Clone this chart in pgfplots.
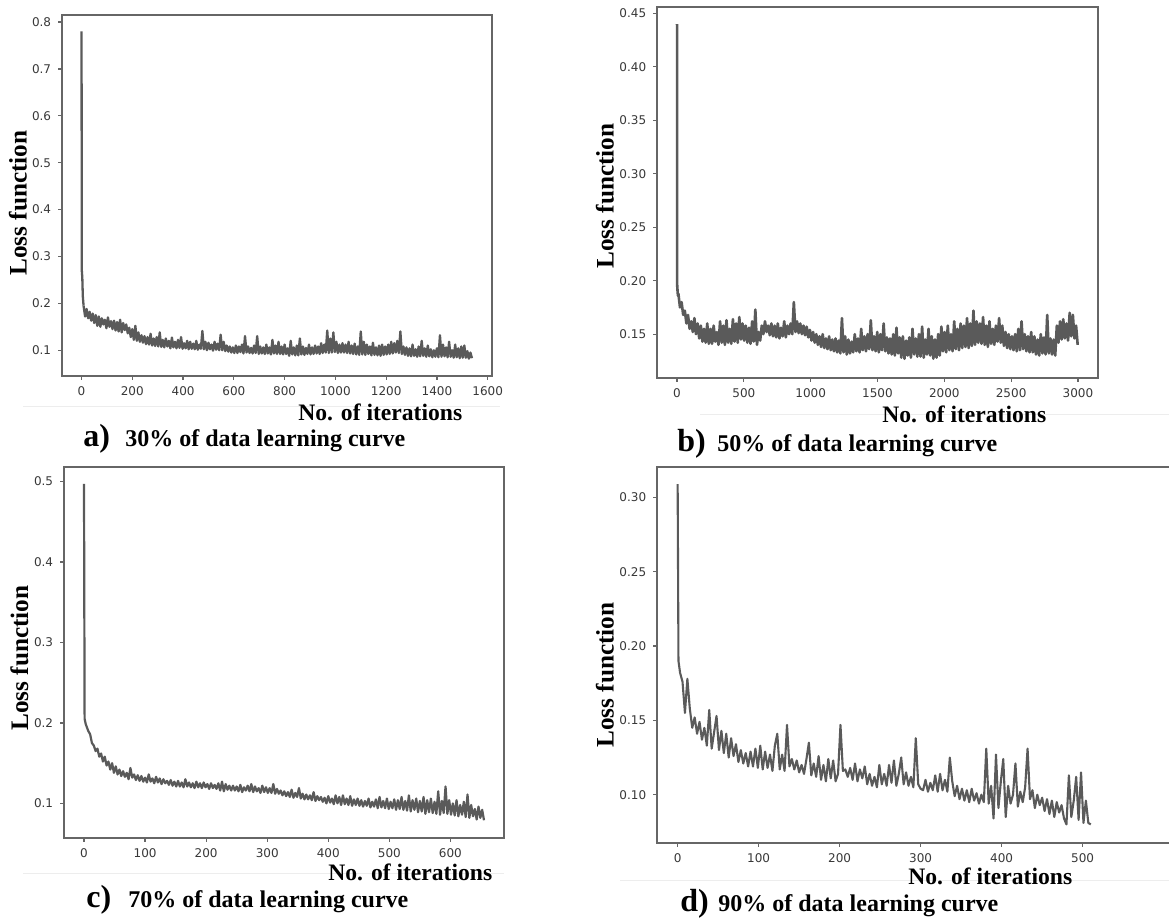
\documentclass[border=0pt]{standalone}
\usepackage{pgfplots}
\usepackage{pgfplotstable}
\pgfplotsset{compat=1.18}
\usepackage{fontspec}
\setmainfont{Liberation Serif}
\newfontfamily\tickfont{DejaVu Sans}
\definecolor{curve}{HTML}{5A5A5A}
\definecolor{spine}{HTML}{666666}
\definecolor{ticktext}{HTML}{383838}

\pgfplotsset{
  lossax/.style={
    scale only axis,
    axis line style={spine, line width=0.8pt},
    tick align=outside,
    major tick length=1.9pt,
    every tick/.style={spine, line width=0.6pt},
    tick pos=left,
    /pgf/number format/assume math mode=true,
    /pgf/number format/1000 sep={},
    scaled ticks=false,
    tick label style={font=\tickfont\fontsize{6}{7}\selectfont, text=ticktext},
  },
  curvestyle/.style={curve, line width=1.15pt, line join=round},
}

% ---------- panel a: 30% (x = 8 + 6*index) ----------
\pgfplotstableread[header=false]{
0.195
0.172
0.188
0.168
0.182
0.163
0.178
0.158
0.175
0.152
0.172
0.150
0.168
0.155
0.165
0.147
0.170
0.150
0.162
0.145
0.163
0.142
0.160
0.140
0.165
0.138
0.158
0.143
0.155
0.136
0.148
0.128
0.145
0.122
0.152
0.120
0.138
0.118
0.132
0.116
0.130
0.113
0.128
0.112
0.135
0.110
0.125
0.109
0.128
0.108
0.138
0.107
0.122
0.106
0.125
0.108
0.120
0.104
0.127
0.106
0.118
0.104
0.122
0.105
0.128
0.103
0.115
0.104
0.120
0.102
0.118
0.103
0.114
0.102
0.120
0.101
0.112
0.103
0.141
0.102
0.118
0.100
0.116
0.102
0.112
0.099
0.118
0.101
0.114
0.100
0.133
0.100
0.118
0.098
0.110
0.097
0.108
0.095
0.106
0.094
0.110
0.094
0.108
0.096
0.112
0.093
0.130
0.095
0.108
0.094
0.105
0.093
0.110
0.094
0.130
0.092
0.108
0.093
0.106
0.092
0.112
0.093
0.106
0.091
0.122
0.093
0.110
0.092
0.118
0.092
0.108
0.091
0.112
0.092
0.104
0.088
0.120
0.091
0.106
0.089
0.110
0.089
0.125
0.091
0.108
0.090
0.105
0.092
0.112
0.091
0.106
0.092
0.110
0.093
0.108
0.092
0.115
0.094
0.112
0.095
0.142
0.094
0.125
0.095
0.138
0.096
0.118
0.094
0.112
0.095
0.115
0.095
0.112
0.094
0.118
0.093
0.110
0.092
0.114
0.091
0.108
0.090
0.140
0.091
0.118
0.090
0.112
0.092
0.108
0.089
0.116
0.090
0.106
0.089
0.110
0.088
0.112
0.090
0.108
0.091
0.112
0.092
0.118
0.093
0.115
0.095
0.120
0.094
0.140
0.092
0.108
0.090
0.106
0.088
0.104
0.087
0.112
0.088
0.102
0.086
0.108
0.087
0.120
0.088
0.104
0.086
0.110
0.087
0.102
0.085
0.100
0.086
0.104
0.085
0.132
0.086
0.112
0.087
0.106
0.085
0.118
0.086
0.100
0.084
0.112
0.085
0.104
0.083
0.108
0.084
0.110
0.084
0.098
0.082
0.095
0.083
}\dataA

% ---------- panel b: 50% (x = 10 + 12*index) ----------
\pgfplotstableread[header=false]{
0.188
0.175
0.180
0.168
0.172
0.160
0.168
0.155
0.162
0.152
0.165
0.150
0.160
0.146
0.158
0.143
0.155
0.142
0.160
0.141
0.155
0.141
0.158
0.143
0.152
0.140
0.162
0.142
0.158
0.140
0.163
0.142
0.155
0.141
0.164
0.143
0.160
0.142
0.166
0.145
0.160
0.144
0.158
0.142
0.156
0.141
0.162
0.143
0.173
0.140
0.152
0.144
0.158
0.150
0.162
0.152
0.158
0.149
0.160
0.148
0.158
0.147
0.160
0.146
0.156
0.148
0.162
0.147
0.158
0.150
0.160
0.150
0.180
0.152
0.162
0.151
0.160
0.150
0.158
0.149
0.157
0.147
0.154
0.144
0.152
0.142
0.150
0.140
0.148
0.138
0.150
0.137
0.146
0.136
0.148
0.135
0.145
0.134
0.146
0.133
0.144
0.132
0.165
0.133
0.148
0.131
0.145
0.132
0.143
0.133
0.150
0.134
0.146
0.133
0.155
0.135
0.148
0.134
0.150
0.136
0.163
0.135
0.148
0.134
0.152
0.133
0.150
0.135
0.160
0.134
0.147
0.132
0.146
0.131
0.150
0.130
0.156
0.132
0.147
0.128
0.148
0.127
0.144
0.130
0.147
0.128
0.155
0.131
0.146
0.129
0.150
0.129
0.157
0.128
0.145
0.131
0.155
0.130
0.148
0.127
0.145
0.128
0.150
0.130
0.157
0.134
0.152
0.133
0.158
0.135
0.150
0.134
0.162
0.136
0.155
0.135
0.160
0.137
0.158
0.138
0.165
0.137
0.160
0.139
0.172
0.140
0.162
0.142
0.160
0.141
0.166
0.140
0.158
0.138
0.162
0.141
0.155
0.140
0.158
0.143
0.165
0.142
0.158
0.139
0.152
0.137
0.150
0.136
0.148
0.135
0.150
0.134
0.155
0.135
0.162
0.136
0.150
0.134
0.148
0.133
0.152
0.133
0.148
0.131
0.145
0.130
0.150
0.132
0.147
0.131
0.168
0.132
0.146
0.131
0.145
0.130
0.158
0.142
0.162
0.145
0.164
0.146
0.160
0.144
0.170
0.148
0.168
0.146
0.158
0.140
}\dataB

% ---------- panel c: 70% (x = 4 + 3*index) ----------
\pgfplotstableread[header=false]{
0.196
0.190
0.186
0.175
0.172
0.165
0.168
0.158
0.162
0.152
0.158
0.147
0.152
0.142
0.150
0.138
0.146
0.136
0.142
0.134
0.140
0.133
0.138
0.130
0.144
0.132
0.136
0.129
0.135
0.128
0.134
0.127
0.132
0.126
0.136
0.127
0.131
0.125
0.133
0.126
0.131
0.124
0.130
0.125
0.128
0.123
0.129
0.122
0.127
0.121
0.128
0.121
0.126
0.120
0.130
0.121
0.126
0.120
0.125
0.119
0.127
0.120
0.125
0.119
0.126
0.120
0.124
0.118
0.125
0.119
0.123
0.118
0.125
0.116
0.127
0.115
0.124
0.117
0.122
0.116
0.122
0.116
0.121
0.115
0.123
0.114
0.120
0.116
0.122
0.115
0.124
0.114
0.121
0.115
0.119
0.113
0.122
0.114
0.120
0.113
0.119
0.113
0.124
0.112
0.118
0.112
0.116
0.110
0.115
0.109
0.114
0.108
0.117
0.107
0.113
0.108
0.119
0.106
0.112
0.105
0.111
0.105
0.110
0.104
0.114
0.103
0.109
0.104
0.108
0.102
0.107
0.100
0.109
0.101
0.106
0.099
0.110
0.100
0.108
0.098
0.110
0.099
0.106
0.098
0.109
0.097
0.105
0.098
0.106
0.097
0.104
0.096
0.103
0.097
0.106
0.095
0.102
0.096
0.105
0.094
0.108
0.095
0.103
0.094
0.106
0.093
0.102
0.094
0.105
0.092
0.104
0.093
0.108
0.092
0.103
0.091
0.110
0.090
0.104
0.092
0.106
0.089
0.103
0.090
0.108
0.087
0.104
0.089
0.106
0.088
0.102
0.087
0.115
0.086
0.103
0.088
0.121
0.087
0.104
0.086
0.100
0.085
0.104
0.084
0.098
0.086
0.102
0.083
0.111
0.082
0.098
0.084
0.093
0.080
0.096
0.082
0.092
0.079
}\dataC

% ---------- panel d: 90% (x = 3 + 3*index) ----------
\pgfplotstableread[header=false]{
0.182
0.176
0.155
0.178
0.158
0.145
0.152
0.141
0.149
0.137
0.145
0.133
0.157
0.131
0.142
0.153
0.130
0.143
0.128
0.141
0.125
0.138
0.126
0.134
0.122
0.130
0.121
0.128
0.119
0.129
0.119
0.131
0.118
0.133
0.117
0.129
0.118
0.127
0.116
0.133
0.141
0.117
0.127
0.116
0.147
0.119
0.124
0.117
0.123
0.115
0.120
0.114
0.124
0.135
0.113
0.121
0.112
0.126
0.110
0.120
0.109
0.124
0.111
0.123
0.109
0.114
0.147
0.116
0.117
0.112
0.118
0.110
0.121
0.109
0.117
0.111
0.119
0.107
0.114
0.106
0.112
0.105
0.120
0.107
0.114
0.106
0.120
0.108
0.123
0.106
0.114
0.125
0.107
0.115
0.106
0.112
0.105
0.138
0.107
0.104
0.103
0.110
0.102
0.108
0.103
0.113
0.102
0.114
0.103
0.110
0.102
0.125
0.109
0.099
0.106
0.097
0.104
0.096
0.103
0.095
0.104
0.096
0.101
0.094
0.100
0.095
0.131
0.094
0.106
0.084
0.127
0.091
0.109
0.124
0.085
0.106
0.094
0.100
0.121
0.092
0.102
0.095
0.105
0.131
0.097
0.103
0.091
0.100
0.093
0.098
0.089
0.097
0.087
0.096
0.085
0.095
0.088
0.093
0.084
0.080
0.113
0.085
0.096
0.112
0.083
0.115
0.081
0.096
0.081
0.080
}\dataD

\begin{document}
\begin{tikzpicture}
\useasboundingbox (0,0) rectangle (584.5pt,460.5pt);

% faint frame artefacts of the composite figure
\draw[gray!14, line width=0.5pt] (11.5pt,257pt) -- (250pt,257pt);
\draw[gray!14, line width=0.5pt] (350pt,253pt) -- (584.5pt,253pt);
\draw[gray!14, line width=0.5pt] (11.5pt,23.5pt) -- (252pt,23.5pt);
\draw[gray!14, line width=0.5pt] (310pt,20pt) -- (584.5pt,20pt);

% ---- a ----
\begin{axis}[lossax, at={(31pt,272.5pt)}, anchor=south west,
  width=215pt, height=180.5pt,
  xmin=-77, xmax=1617, ymin=0.045, ymax=0.815,
  xtick={0,200,...,1600}, ytick={0.1,0.2,0.3,0.4,0.5,0.6,0.7,0.8},
  yticklabel style={/pgf/number format/.cd, fixed, precision=1}]
\addplot[curvestyle] coordinates {(0,0.78) (1,0.27) (3,0.255) (5,0.215) (8,0.195)};
\addplot[curvestyle] table[x expr=8+\coordindex*6, y index=0] {\dataA};
\end{axis}

% ---- b ----
\begin{axis}[lossax, at={(328.5pt,271.5pt)}, anchor=south west,
  width=220.5pt, height=185.5pt,
  xmin=-150, xmax=3150, ymin=0.109, ymax=0.456,
  xtick={0,500,...,3000}, ytick={0.15,0.20,0.25,0.30,0.35,0.40,0.45},
  yticklabel style={/pgf/number format/.cd, fixed, fixed zerofill, precision=2}]
\addplot[curvestyle, line width=1.3pt] coordinates {(0,0.44) (1,0.196) (4,0.19) (7,0.186) (10,0.188)};
\addplot[curvestyle, line width=1.3pt] table[x expr=10+\coordindex*12, y index=0] {\dataB};
\end{axis}

% ---- c ----
\begin{axis}[lossax, at={(32pt,41.5pt)}, anchor=south west,
  width=220pt, height=185.5pt,
  xmin=-32.75, xmax=687.75, ymin=0.057, ymax=0.518,
  xtick={0,100,...,600}, ytick={0.1,0.2,0.3,0.4,0.5},
  yticklabel style={/pgf/number format/.cd, fixed, precision=1}]
\addplot[curvestyle, line width=1.1pt] coordinates {(0,0.497) (1,0.205) (3,0.198) (4,0.196)};
\addplot[curvestyle, line width=1.1pt] table[x expr=4+\coordindex*3, y index=0] {\dataC};
\end{axis}

% ---- d ----
\begin{axis}[lossax, at={(328.5pt,39pt)}, anchor=south west,
  width=259pt, height=188pt,
  xmin=-25.5, xmax=614, ymin=0.0675, ymax=0.3205,
  xtick={0,100,...,500}, ytick={0.10,0.15,0.20,0.25,0.30},
  yticklabel style={/pgf/number format/.cd, fixed, fixed zerofill, precision=2}]
\addplot[curvestyle, line width=1.05pt] coordinates {(0,0.309) (1,0.19) (2,0.186) (3,0.182)};
\addplot[curvestyle, line width=1.05pt] table[x expr=3+\coordindex*3, y index=0] {\dataD};
\end{axis}

% ---- axis titles ----
\tikzset{lbltxt/.style={font=\bfseries\fontsize{11.8}{14}\selectfont, inner sep=0pt},
         ylbltxt/.style={font=\bfseries\fontsize{12.6}{14}\selectfont, rotate=90, inner sep=0pt},
         captxt/.style={font=\bfseries\fontsize{12}{14}\selectfont, inner sep=0pt, anchor=base west},
         capletter/.style={font=\bfseries\fontsize{16}{18}\selectfont, inner sep=0pt, anchor=base west}}
\node[lbltxt, anchor=base west] at (149pt,250pt) {No. of iterations};
\node[lbltxt, anchor=base west] at (441pt,249pt) {No. of iterations};
\node[lbltxt, anchor=base west] at (164pt,20pt) {No. of iterations};
\node[lbltxt, anchor=base west] at (454pt,18pt) {No. of iterations};

\node[ylbltxt] at (9pt,359pt) {Loss function};
\node[ylbltxt] at (302.5pt,362.5pt) {Loss function};
\node[ylbltxt] at (9.75pt,131.5pt) {Loss function};
\node[ylbltxt] at (302.5pt,123pt) {Loss function};

\node[capletter] at (41.5pt,237pt) {a)};
\node[captxt] at (62.5pt,237pt) {30\% of data learning curve};
\node[capletter] at (338.5pt,234.5pt) {b)};
\node[captxt] at (358.5pt,234.5pt) {50\% of data learning curve};
\node[capletter] at (43pt,6.5pt) {c)};
\node[captxt] at (64pt,6.5pt) {70\% of data learning curve};
\node[capletter] at (340pt,4.5pt) {d)};
\node[captxt] at (359pt,4.5pt) {90\% of data learning curve};
\end{tikzpicture}
\end{document}
